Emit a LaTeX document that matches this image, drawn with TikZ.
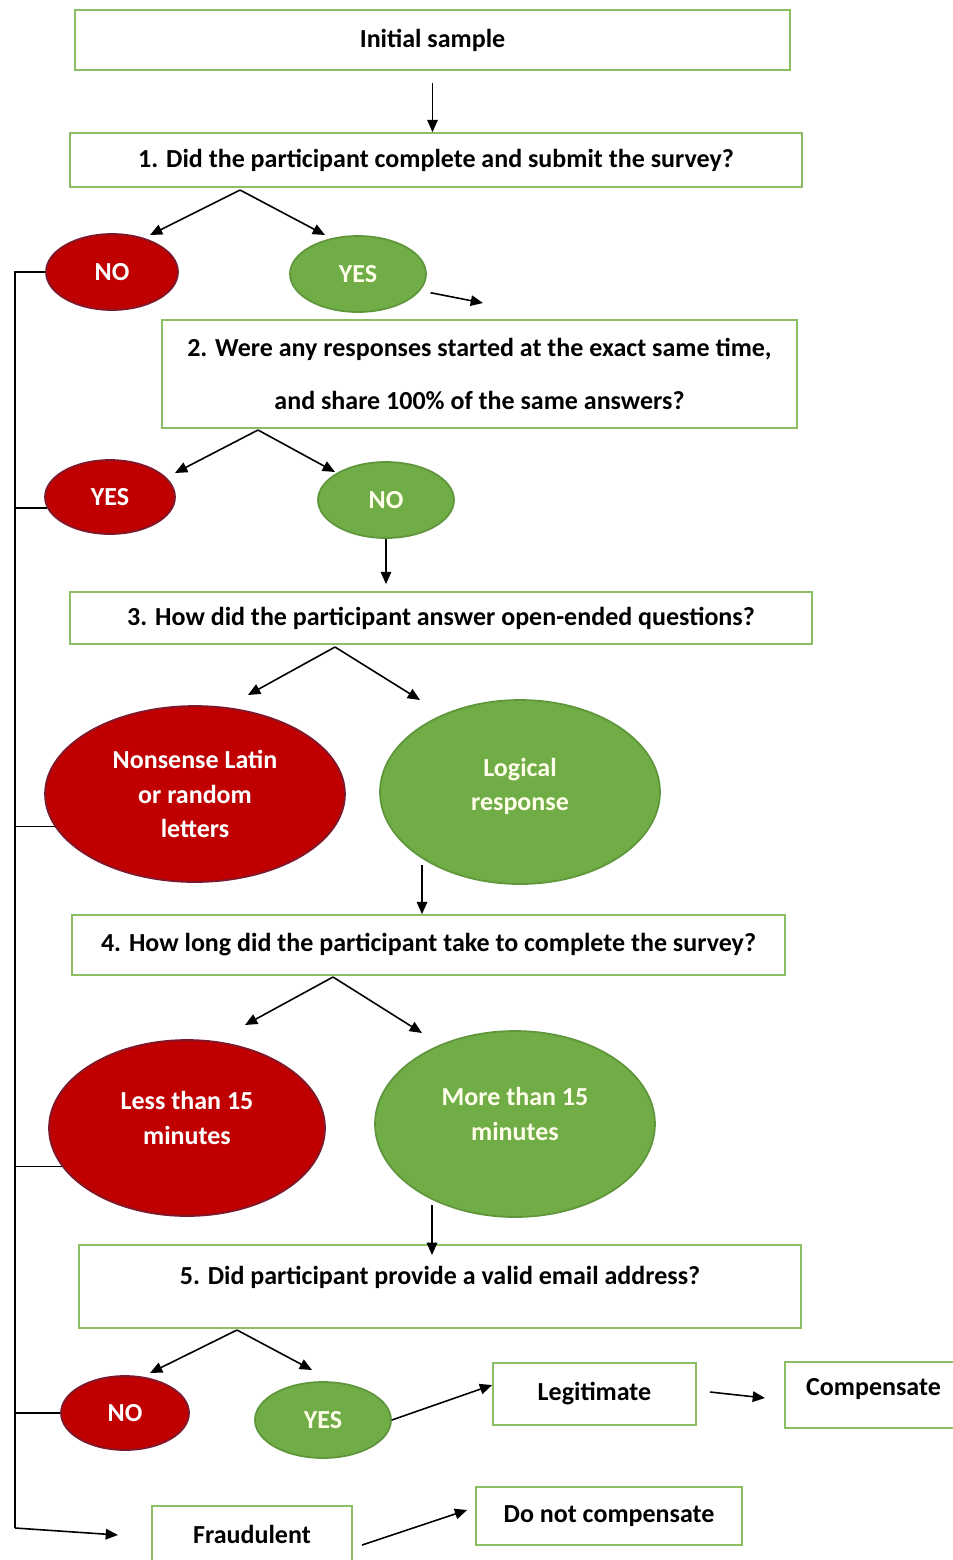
\documentclass[tikz,border=0pt]{standalone}
\usepackage{fontspec}
\setmainfont{Carlito}
\usepackage{xcolor}
\usetikzlibrary{positioning, arrows.meta, shapes, shapes.geometric, calc}
\definecolor{boxgreen}{RGB}{140,190,100}
\definecolor{nored}{RGB}{192,0,0}
\definecolor{nored line}{RGB}{125,25,45}
\definecolor{yesgreen}{RGB}{112,173,71}
\definecolor{yesgreen line}{RGB}{95,150,60}

\begin{document}
\begin{tikzpicture}[x=0.02cm, y=-0.02cm, every node/.style={font=\bfseries\fontsize{14.8}{17}\selectfont, align=center, inner sep=0pt},
        qbox/.style={draw=boxgreen, line width=1pt, rectangle},
        noell/.style={ellipse, draw=nored line, line width=1pt, fill=nored, text=white},
        yesell/.style={ellipse, draw=yesgreen line, line width=1pt, fill=yesgreen, text=white!92!yellow},
        arr/.style={-{Triangle[length=7pt, width=6pt]}, line width=0.9pt},
        tie/.style={line width=0.9pt}]
        \useasboundingbox (0,0) rectangle (953,1560);
        \fill[white] (0,0) rectangle (953,1560);

        \node [qbox, minimum width=14.3cm, minimum height=1.2cm] (init) at (432.5,40) {Initial sample};
        \node [qbox, minimum width=14.64cm, minimum height=1.08cm] (q1) at (436,160) {1. Did the participant complete and submit the survey?};
        \node [noell, minimum width=2.64cm, minimum height=1.52cm] (no1) at (112,272) {NO};
        \node [yesell, minimum width=2.72cm, minimum height=1.52cm] (yes1) at (358,274) {YES};
        \node [qbox, minimum width=12.7cm, minimum height=2.16cm] (q2) at (479.5,374) {2. Were any responses started at the exact same time,\\[13pt]and share 100\% of the same answers?};
        \node [noell, minimum width=2.6cm, minimum height=1.48cm] (yes2) at (110,497) {YES};
        \node [yesell, minimum width=2.72cm, minimum height=1.52cm] (no2) at (386,500) {NO};
        \node [qbox, minimum width=14.84cm, minimum height=1.04cm] (q3) at (441,618) {3. How did the participant answer open-ended questions?};
        \node [noell, minimum width=6cm, minimum height=3.52cm, font=\bfseries\fontsize{14.8}{19.5}\selectfont] (nonsense) at (195,794) {Nonsense Latin\\or random\\letters};
        \node [yesell, minimum width=5.6cm, minimum height=3.68cm, text depth=0.32cm, font=\bfseries\fontsize{14.8}{19.5}\selectfont] (logical) at (520,792) {Logical\\response};
        \node [qbox, minimum width=14.26cm, minimum height=1.2cm] (q4) at (428.5,945) {4. How long did the participant take to complete the survey?};
        \node [noell, minimum width=5.52cm, minimum height=3.52cm, text depth=0.4cm, font=\bfseries\fontsize{14.8}{20}\selectfont] (less) at (187,1128) {Less than 15\\minutes};
        \node [yesell, minimum width=5.6cm, minimum height=3.72cm, text depth=0.4cm, font=\bfseries\fontsize{14.8}{20}\selectfont] (more) at (515,1124) {More than 15\\minutes};
        \node [qbox, minimum width=14.44cm, minimum height=1.66cm, text height=0.3cm, text depth=0.38cm] (q5) at (440,1286.5) {5. Did participant provide a valid email address?};
        \node [noell, minimum width=2.56cm, minimum height=1.48cm] (no5) at (125,1413) {NO};
        \node [yesell, minimum width=2.72cm, minimum height=1.52cm] (yes5) at (323,1420) {YES};
        \node [qbox, minimum width=4.06cm, minimum height=1.24cm] (legit) at (594.5,1394) {Legitimate};
        \node [qbox, minimum width=3.54cm, minimum height=1.32cm, text height=0.3cm, text depth=0.28cm] (comp) at (873.5,1395) {Compensate};
        \node [qbox, minimum width=4cm, minimum height=1.12cm] (fraud) at (252,1534) {Fraudulent};
        \node [qbox, minimum width=5.32cm, minimum height=1.16cm] (dnc) at (609,1516) {Do not compensate};

        \coordinate (q1split) at (240,190);
        \coordinate (q2split) at (258,430);
        \coordinate (q3split) at (335,647);
        \coordinate (q4split) at (333,977);
        \coordinate (q5split) at (237,1330);
        \coordinate (yes1end) at (483,303);
        \coordinate (logicalout) at (422,865);
        \coordinate (leftbottom) at (15,1528);
        \coordinate (fraudin) at (118,1535);

        \draw[arr] (init.south) ++(0,12) -- (init.south |- q1.north);
        \draw[arr] (q1split) -- (150,235);
        \draw[arr] (q1split) -- (325,235);
        \draw[arr, shorten <=6pt] (yes1.-15) -- (yes1end);
        \draw[arr] (q2split) -- (175,473);
        \draw[arr] (q2split) -- (335,472);
        \draw[arr] (no2.south) -- ($(no2.south |- q3.north)+(0,-7)$);
        \draw[arr] (q3split) -- (248,695);
        \draw[arr] (q3split) -- (420,700);
        \draw[arr] (logicalout) -- (logicalout |- q4.north);
        \draw[arr] (q4split) -- (245,1025);
        \draw[arr] (q4split) -- (422,1033);
        \draw[arr] (432,1205) -- (432,1255);
        \draw[arr] (q5split) -- (150,1373);
        \draw[arr] (q5split) -- (312,1370);
        \draw[arr] (yes5.east) -- ($(legit.west)+(0,-9)$);
        \draw[arr] (710,1392) -- (765,1398);
        \draw[arr] (362,1545) -- ($(dnc.west)+(-8,-6)$);

        \draw[tie] (no1.west) -- (15,272) -- (leftbottom);
        \draw[arr] (leftbottom) -- (fraudin);
        \draw[tie] (yes2.190) -- (yes2.190 -| leftbottom);
        \draw[tie] (nonsense.193) -- (nonsense.193 -| leftbottom);
        \draw[tie] (less.197) -- (less.197 -| leftbottom);
        \draw[tie] (no5.west) -- (no5.west -| leftbottom);
\end{tikzpicture}
\end{document}
